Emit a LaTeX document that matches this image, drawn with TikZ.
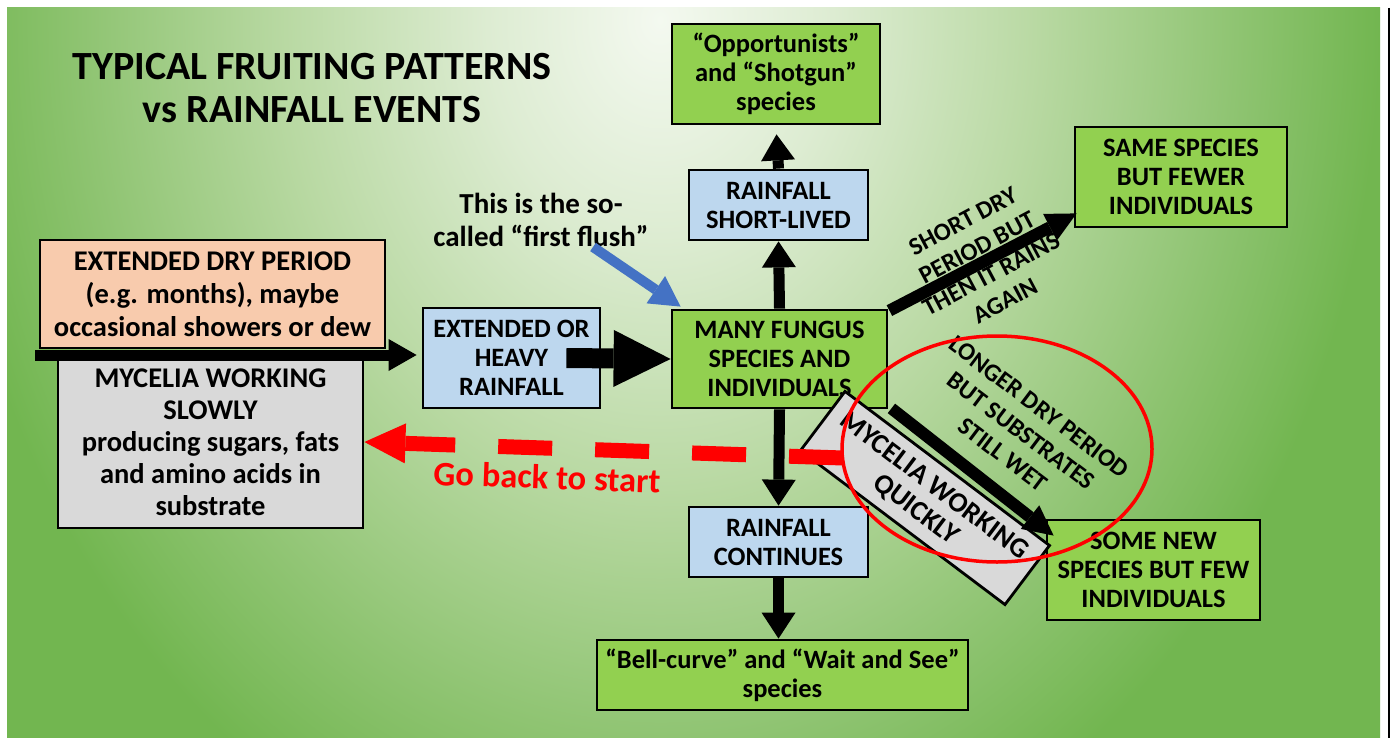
\documentclass[tikz,border=0pt]{standalone}
\usepackage{fontspec}
\setmainfont{Carlito}
\usetikzlibrary{arrows.meta,calc}
\definecolor{gbox}{HTML}{92D050}
\definecolor{bbox}{HTML}{BDD7EE}
\definecolor{obox}{HTML}{F8CBAD}
\definecolor{grbox}{HTML}{D9D9D9}
\definecolor{arrblue}{HTML}{4472C4}
\definecolor{bg0}{HTML}{F4F9F0}
\definecolor{bg1}{HTML}{DDECD2}
\definecolor{bg2}{HTML}{B9D9A3}
\definecolor{bg3}{HTML}{8FC472}
\definecolor{bg4}{HTML}{72B650}
\pgfdeclareradialshading{bgshade}{\pgfpoint{0bp}{0bp}}{color(0bp)=(bg0); color(6bp)=(bg1); color(13bp)=(bg2); color(20bp)=(bg3); color(25bp)=(bg4); color(80bp)=(bg4)}
\begin{document}
\begin{tikzpicture}[x=1pt,y=-1pt,
  box/.style={draw=black, line width=2.8pt, inner sep=0pt, align=center,
    font=\bfseries\fontsize{26.5}{29}\selectfont},
  lbl/.style={align=center, inner sep=0pt, font=\bfseries\fontsize{25}{30}\selectfont},
  varrow/.style={line width=11pt, -{Triangle[length=26pt,width=34pt,line width=0pt]}},
  darrow/.style={line width=12pt, -{Triangle[length=30pt,width=30pt,line width=0pt]}}
]
\useasboundingbox (0,0) rectangle (1396,738);
\fill[white] (0,0) rectangle (1396,738);
\begin{scope}
  \clip (7,8) rectangle (1388,738);
  \shade[shading=bgshade] (-60,-880) rectangle (1380,920);
\end{scope}
\draw[black, line width=2pt] (1389,8) -- (1389,738);

% title
\node[align=center, inner sep=0pt, font=\bfseries\fontsize{40}{43}\selectfont] (title) at (312,88)
  {TYPICAL FRUITING PATTERNS\\vs RAINFALL EVENTS};

% boxes
\node[box, fill=obox, minimum width=345, minimum height=108,
  font=\bfseries\fontsize{28.5}{33}\selectfont] (dry) at (212.5,294)
  {EXTENDED DRY PERIOD\\(e.g. months), maybe\\occasional showers or dew};
\node[box, fill=grbox, minimum width=305, minimum height=172,
  font=\bfseries\fontsize{28.5}{32}\selectfont] (slow) at (210.5,442)
  {MYCELIA WORKING\\SLOWLY\\producing sugars, fats\\and amino acids in\\substrate};
\node[box, fill=bbox, minimum width=177, minimum height=100] (ext) at (511.5,358)
  {EXTENDED OR\\HEAVY\\RAINFALL};
\node[box, fill=gbox, minimum width=215, minimum height=98] (many) at (779.5,359)
  {MANY FUNGUS\\SPECIES AND\\INDIVIDUALS};
\node[box, fill=bbox, minimum width=179, minimum height=70] (rsl) at (778.5,205)
  {RAINFALL\\SHORT-LIVED};
\node[box, fill=gbox, minimum width=208, minimum height=100] (opp) at (776,74)
  {“Opportunists”\\and “Shotgun”\\species};
\node[box, fill=gbox, minimum width=212, minimum height=100] (same) at (1181,177)
  {SAME SPECIES\\BUT FEWER\\INDIVIDUALS};
\node[box, fill=bbox, minimum width=179, minimum height=70] (rc) at (778.5,542)
  {RAINFALL\\CONTINUES};
\node[box, fill=gbox, minimum width=371, minimum height=70] (bell) at (782.5,675)
  {“Bell-curve” and “Wait and See”\\species};
\node[box, fill=gbox, minimum width=213, minimum height=100] (some) at (1153.5,570)
  {SOME NEW\\SPECIES BUT FEW\\INDIVIDUALS};

% black connectors
\coordinate (dstart) at (35,355);
\draw[line width=11pt, -{Triangle[length=28pt,width=32pt,line width=0pt]}]
  (dstart) -- ($(dstart -| ext.west)+(-5,0)$);
\draw[line width=20pt, -{Triangle[length=57pt,width=57pt,line width=0pt]}]
  ($(ext.east)+(-35,0)$) -- (many.west);
\draw[varrow] (many.north) -- (rsl.south);
\draw[varrow, shorten >=9pt] (rsl.north) -- (opp.south);
\draw[varrow] (many.south) -- (rc.north);
\draw[varrow] (rc.south) -- (rc.south |- bell.north);
\draw[darrow] ($(many.north east)+(1,2)$) -- ($(same.south west)+(3,-15)$);

% mycelia working quickly
\node[box, fill=grbox, minimum width=256, minimum height=74, rotate=-37,
  font=\bfseries\fontsize{28}{30}\selectfont] (quick) at (925,498)
  {MYCELIA WORKING\\QUICKLY};
\draw[darrow] ($(many.south east)+(3,-1)$) -- ($(some.north west)+(8,17)$);

% first flush
\node[lbl, font=\bfseries\fontsize{29}{33}\selectfont] (flush) at (541,220)
  {This is the so-\\called “first flush”};
\coordinate (bstart) at (593,247);
\draw[arrblue, line width=10pt, -{Triangle[length=30pt,width=33pt,line width=0pt]}]
  (bstart) -- ($(many.north west)+(10,-2)$);

% go back to start
\coordinate (rstart) at (843,458);
\draw[red, line width=15pt, dash pattern=on 54pt off 43pt,
  -{Triangle[length=41pt,width=40pt,line width=0pt]}]
  (rstart) -- (slow.east);
\node[lbl, text=red, rotate=-2, font=\bfseries\fontsize{34.5}{38}\selectfont] (goback) at (547,477)
  {Go back to start};

% labels on diagonal arrows
\node[lbl, rotate=28] (shortlbl) at (984,261)
  {SHORT DRY\\PERIOD BUT\\THEN IT RAINS\\AGAIN};
\node[lbl, rotate=-37] (longlbl) at (1021,431)
  {LONGER DRY PERIOD\\BUT SUBSTRATES\\STILL WET};

% red ellipse
\draw[red, line width=3.5pt] (997,449) ellipse [x radius=155, y radius=113];
\end{tikzpicture}
\end{document}
